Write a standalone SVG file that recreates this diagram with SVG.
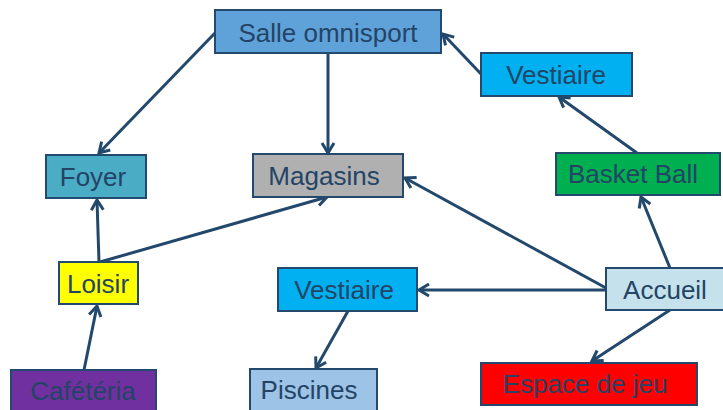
<svg xmlns="http://www.w3.org/2000/svg" width="723" height="410" viewBox="0 0 723 410">
<style>
  .box { stroke: #24496e; stroke-width: 2; }
  .lbl { font-family: "Liberation Sans", Arial, sans-serif; font-size: 26px; fill: #244466; text-anchor: middle; }
  .edge { stroke: #22486c; stroke-width: 3; fill: none; marker-end: url(#arr); }
</style>
<defs>
  <marker id="arr" markerUnits="userSpaceOnUse" markerWidth="16" markerHeight="16" refX="12" refY="8" orient="auto">
    <path d="M2,2 L12,8 L2,14" fill="none" stroke="#22486c" stroke-width="3"/>
  </marker>
</defs>
<rect width="723" height="410" fill="#ffffff"/>
<g id="connectors">
  <line class="edge" x1="215" y1="33" x2="99" y2="153"/>
  <line class="edge" x1="328" y1="53" x2="328" y2="153"/>
  <line class="edge" x1="481" y1="74" x2="443" y2="34"/>
  <line class="edge" x1="637" y1="153" x2="559" y2="97"/>
  <line class="edge" x1="670" y1="268" x2="641" y2="197"/>
  <line class="edge" x1="606" y1="288" x2="405" y2="178"/>
  <line class="edge" x1="606" y1="290" x2="419" y2="290"/>
  <line class="edge" x1="670" y1="310" x2="592" y2="361"/>
  <line class="edge" x1="348" y1="311" x2="316" y2="368"/>
  <line class="edge" x1="99" y1="262" x2="97" y2="200"/>
  <line class="edge" x1="100" y1="262" x2="327" y2="197"/>
  <line class="edge" x1="84" y1="370" x2="97" y2="306"/>
</g>
<g id="salle">
  <rect class="box" x="215" y="10" width="226" height="43" fill="#5fa2da"/>
  <text class="lbl" x="328" y="42">Salle omnisport</text>
</g>
<g id="vestiaire1">
  <rect class="box" x="481" y="53" width="151" height="43" fill="#00b0f0"/>
  <text class="lbl" x="556" y="84">Vestiaire</text>
</g>
<g id="basket">
  <rect class="box" x="556" y="153" width="164" height="42" fill="#00b050"/>
  <text class="lbl" x="633" y="183">Basket Ball</text>
</g>
<g id="foyer">
  <rect class="box" x="46" y="155" width="100" height="43" fill="#4bacc6"/>
  <text class="lbl" x="93" y="186">Foyer</text>
</g>
<g id="magasins">
  <rect class="box" x="253" y="154" width="150" height="43" fill="#b0b0b0"/>
  <text class="lbl" x="324" y="185">Magasins</text>
</g>
<g id="loisir">
  <rect class="box" x="59" y="262" width="79" height="42" fill="#ffff00"/>
  <text class="lbl" x="98" y="293">Loisir</text>
</g>
<g id="cafeteria">
  <rect class="box" x="11" y="370" width="145" height="44" fill="#7030a0"/>
  <text class="lbl" x="83" y="400">Cafétéria</text>
</g>
<g id="vestiaire2">
  <rect class="box" x="278" y="268" width="139" height="43" fill="#00b0f0"/>
  <text class="lbl" x="344" y="299">Vestiaire</text>
</g>
<g id="piscines">
  <rect class="box" x="250" y="369" width="127" height="45" fill="#9dc3e6"/>
  <text class="lbl" x="309" y="399">Piscines</text>
</g>
<g id="accueil">
  <rect class="box" x="606" y="268" width="120" height="42" fill="#c5e2ec"/>
  <text class="lbl" x="665" y="299">Accueil</text>
</g>
<g id="espace">
  <rect class="box" x="481" y="363" width="216" height="42" fill="#ff0000"/>
  <text class="lbl" x="585" y="393">Espace de jeu</text>
</g>
</svg>
